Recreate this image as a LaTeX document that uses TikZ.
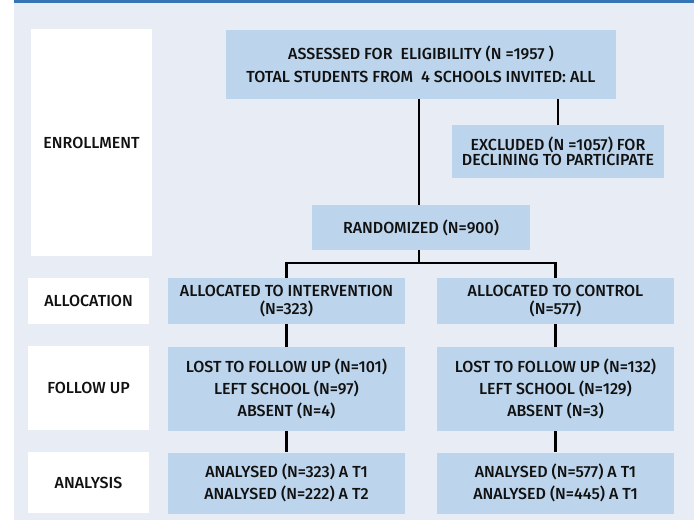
\documentclass[tikz,border=0pt]{standalone}
\usepackage{fontspec}
\setmainfont{Fira Sans Medium}
\begin{document}
\begin{tikzpicture}[x=1pt,y=-1pt,
  box/.style={rectangle,fill=boxblue,inner sep=0pt,align=center,anchor=center,text=textdark},
  lab/.style={rectangle,fill=white,inner sep=0pt,align=center,anchor=center,text=textdark},
  conn/.style={draw=black,line width=2.2pt},
  sp/.style={font=\fontsize{16}{#1}\selectfont}]
\definecolor{boxblue}{HTML}{BDD5EC}
\definecolor{bgblue}{HTML}{E8EDF5}
\definecolor{barblue}{HTML}{3575B5}
\definecolor{textdark}{HTML}{111111}
\useasboundingbox (0,0) rectangle (694,522);
\fill[bgblue] (14,0) rectangle (694,520);
\fill[barblue] (14,0) rectangle (694,3);
% stage labels
\node[lab,sp=18,minimum width=121,minimum height=227] (enr) at (91.5,142.5) {ENROLLMENT};
\node[lab,sp=18,minimum width=121,minimum height=46] (alloc) at (88.5,301) {ALLOCATION};
\node[lab,sp=18,minimum width=121,minimum height=84] (fup) at (88.5,388) {FOLLOW UP};
\node[lab,sp=18,minimum width=121,minimum height=61] (ana) at (88.5,482.5) {ANALYSIS};
% boxes
\node[box,sp=23,minimum width=390,minimum height=69] (assessed) at (421,64.5)
  {ASSESSED FOR \ ELIGIBILITY (N =1957 )\\TOTAL STUDENTS FROM \ 4 SCHOOLS INVITED: ALL};
\node[box,sp=15,minimum width=212,minimum height=53] (excl) at (558,151.5)
  {EXCLUDED (N =1057) FOR\\DECLINING TO PARTICIPATE};
\node[box,sp=18,minimum width=218,minimum height=45] (rand) at (421,227.5) {RANDOMIZED (N=900)};
\node[box,sp=18,minimum width=237,minimum height=46] (int) at (286.5,301)
  {ALLOCATED TO INTERVENTION\\(N=323)};
\node[box,sp=18,minimum width=237,minimum height=46] (ctl) at (555.5,301)
  {ALLOCATED TO CONTROL\\(N=577)};
\node[box,sp=22,minimum width=237,minimum height=84] (fi) at (286.5,389)
  {LOST TO FOLLOW UP (N=101)\\LEFT SCHOOL (N=97)\\ABSENT (N=4)};
\node[box,sp=22,minimum width=237,minimum height=84] (fc) at (555.5,389)
  {LOST TO FOLLOW UP (N=132)\\LEFT SCHOOL (N=129)\\ABSENT (N=3)};
\node[box,sp=22,minimum width=237,minimum height=61] (ai) at (286.5,483)
  {ANALYSED (N=323) A T1\\ANALYSED (N=222) A T2};
\node[box,sp=22,minimum width=237,minimum height=61] (ac) at (555.5,483)
  {ANALYSED (N=577) A T1\\ANALYSED (N=445) A T1};
% connectors
\coordinate (split) at (419,263);
\draw[conn] ([xshift=-2]assessed.south) -- ([xshift=-2]rand.north);
\draw[conn] (excl.north |- assessed.south) -- (excl.north);
\draw[conn] (rand.south -| split) -- (split);
\draw[conn] (int.north) |- (split) -| (ctl.north);
\draw[conn] (int.south) -- (fi.north);
\draw[conn] (ctl.south) -- (fc.north);
\draw[conn] (fi.south) -- (ai.north);
\draw[conn] (fc.south) -- (ac.north);
\end{tikzpicture}
\end{document}
